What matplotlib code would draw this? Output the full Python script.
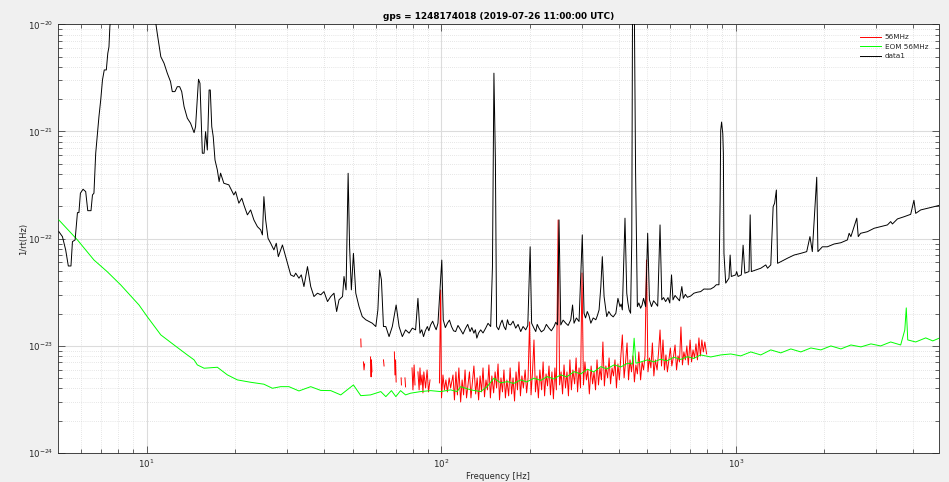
import numpy as np
import matplotlib
matplotlib.use("Agg")
import matplotlib.pyplot as plt
from matplotlib.ticker import FixedLocator, NullFormatter, FixedFormatter

plt.rcParams['font.family'] = ['DejaVu Sans']
plt.rcParams['mathtext.fontset'] = 'dejavusans'

title = "gps = 1248174018 (2019-07-26 11:00:00 UTC)"
xlabel = "Frequency [Hz]"
ylabel = "1/rt(Hz)"
series_names = ["56MHz", "EOM 56MHz", "data1"]
x_tick_exponents = [1, 2, 3]
y_tick_exponents = [-24, -23, -22, -21, -20]

# ---- data1 (black): log10(frequency [Hz]) and log10(amplitude)
data1_logf = [
    0.702, 0.714, 0.725, 0.734, 0.743, 0.748, 0.757, 0.765, 0.770, 0.775,
    0.784, 0.793, 0.800, 0.811, 0.816, 0.821, 0.827, 0.838, 0.844, 0.850,
    0.856, 0.863, 0.868, 0.872, 0.875, 0.879, 0.910, 0.960, 1.010, 1.031,
    1.036, 1.048, 1.059, 1.070, 1.081, 1.087, 1.096, 1.104, 1.112, 1.119,
    1.127, 1.138, 1.149, 1.161, 1.166, 1.176, 1.181, 1.189, 1.195, 1.200,
    1.206, 1.212, 1.216, 1.221, 1.226, 1.232, 1.240, 1.246, 1.251, 1.262,
    1.279, 1.296, 1.302, 1.313, 1.323, 1.330, 1.342, 1.353, 1.364, 1.376,
    1.387, 1.393, 1.398, 1.404, 1.412, 1.421, 1.432, 1.440, 1.447, 1.461,
    1.472, 1.489, 1.500, 1.506, 1.517, 1.525, 1.534, 1.546, 1.557, 1.568,
    1.580, 1.591, 1.602, 1.614, 1.625, 1.636, 1.645, 1.653, 1.665, 1.670,
    1.677, 1.684, 1.689, 1.695, 1.702, 1.710, 1.721, 1.732, 1.744, 1.755,
    1.766, 1.778, 1.785, 1.791, 1.797, 1.804, 1.812, 1.823, 1.834, 1.847,
    1.857, 1.868, 1.879, 1.891, 1.902, 1.913, 1.921, 1.928, 1.940, 1.953,
    1.964, 1.978, 1.989, 2.002, 2.007, 2.021, 2.035, 2.049, 2.066, 2.083,
    2.098, 2.111, 2.121, 2.134, 2.151, 2.168, 2.174, 2.179, 2.184, 2.188,
    2.202, 2.213, 2.225, 2.236, 2.253, 2.270, 2.287, 2.302, 2.307, 2.321,
    2.332, 2.349, 2.366, 2.383, 2.395, 2.400, 2.406, 2.423, 2.440, 2.446,
    2.451, 2.468, 2.479, 2.485, 2.496, 2.508, 2.525, 2.536, 2.542, 2.547,
    2.553, 2.562, 2.576, 2.593, 2.600, 2.607, 2.615, 2.624, 2.630, 2.638,
    2.643, 2.647, 2.650, 2.655, 2.660, 2.666, 2.677, 2.687, 2.694, 2.701,
    2.707, 2.714, 2.728, 2.743, 2.749, 2.762, 2.782, 2.787, 2.802, 2.817,
    2.822, 2.836, 2.858, 2.881, 2.904, 2.926, 2.943, 2.947, 2.949, 2.952,
    2.956, 2.958, 2.960, 2.966, 2.977, 2.981, 2.985, 3.000, 3.003, 3.008,
    3.019, 3.025, 3.031, 3.045, 3.049, 3.053, 3.068, 3.085, 3.102, 3.108,
    3.119, 3.127, 3.132, 3.138, 3.142, 3.153, 3.176, 3.198, 3.221, 3.241,
    3.252, 3.260, 3.275, 3.279, 3.294, 3.311, 3.334, 3.357, 3.379, 3.385,
    3.391, 3.411, 3.416, 3.424, 3.447, 3.470, 3.492, 3.515, 3.526, 3.532,
    3.549, 3.572, 3.594, 3.605, 3.611, 3.628, 3.651, 3.673, 3.696,
]
data1_loga = [
    -21.935, -21.981, -22.105, -22.255, -22.255, -22.028, -22.012, -21.757, -21.757, -21.576,
    -21.539, -21.561, -21.739, -21.739, -21.592, -21.576, -21.203, -20.861, -20.706, -20.519,
    -20.426, -20.426, -20.271, -20.210, -20.025, -19.900, -19.550, -19.500, -19.750, -19.990,
    -20.086, -20.302, -20.363, -20.456, -20.535, -20.628, -20.628, -20.582, -20.582, -20.628,
    -20.768, -20.876, -20.923, -21.011, -20.955, -20.513, -20.550, -21.203, -21.203, -21.002,
    -21.173, -20.613, -20.613, -20.955, -21.048, -21.266, -21.360, -21.468, -21.389, -21.483,
    -21.498, -21.592, -21.561, -21.669, -21.623, -21.685, -21.778, -21.732, -21.825, -21.888,
    -21.918, -21.965, -21.608, -21.825, -21.996, -22.043, -22.105, -22.043, -22.168, -22.059,
    -22.168, -22.338, -22.353, -22.322, -22.369, -22.338, -22.447, -22.261, -22.447, -22.540,
    -22.509, -22.524, -22.494, -22.587, -22.540, -22.509, -22.680, -22.571, -22.540, -22.353,
    -22.478, -21.390, -22.076, -22.478, -22.137, -22.509, -22.634, -22.727, -22.757, -22.773,
    -22.789, -22.820, -22.665, -22.292, -22.385, -22.820, -22.820, -22.914, -22.820, -22.619,
    -22.820, -22.914, -22.851, -22.882, -22.835, -22.851, -22.557, -22.882, -22.914, -22.820,
    -22.805, -22.820, -22.789, -22.200, -22.757, -22.789, -22.820, -22.867, -22.851, -22.835,
    -22.867, -22.882, -22.928, -22.851, -22.835, -22.820, -22.261, -20.456, -21.266, -22.820,
    -22.789, -22.820, -22.757, -22.805, -22.835, -22.867, -22.851, -22.076, -22.789, -22.867,
    -22.835, -22.851, -22.835, -22.820, -22.805, -21.825, -22.805, -22.789, -22.757, -22.619,
    -22.789, -22.773, -21.965, -22.696, -22.680, -22.789, -22.757, -22.665, -22.447, -22.168,
    -22.540, -22.727, -22.711, -22.696, -22.557, -22.634, -22.665, -21.809, -22.509, -22.665,
    -22.696, -22.012, -19.500, -19.600, -21.390, -22.634, -22.649, -22.557, -22.634, -21.950,
    -22.571, -22.634, -22.603, -21.872, -22.571, -22.587, -22.338, -22.571, -22.557, -22.447,
    -22.557, -22.547, -22.509, -22.494, -22.471, -22.452, -22.430, -21.642, -20.988, -20.912,
    -21.020, -21.203, -22.137, -22.415, -22.369, -22.153, -22.353, -22.338, -22.307, -22.353,
    -22.338, -22.061, -22.322, -22.307, -21.778, -22.307, -22.292, -22.276, -22.245, -22.276,
    -22.245, -21.702, -21.669, -21.546, -22.230, -22.215, -22.182, -22.153, -22.137, -22.121,
    -21.981, -22.121, -21.427, -22.121, -22.076, -22.076, -22.050, -22.038, -22.012, -21.950,
    -21.981, -21.809, -21.981, -21.950, -21.935, -21.903, -21.888, -21.872, -21.841, -21.863,
    -21.816, -21.795, -21.773, -21.642, -21.764, -21.732, -21.717, -21.702, -21.686,
]
# finer wiggles of data1's noise floor between 85 Hz and 870 Hz
data1_detail_logf = [
    1.934, 1.946, 1.958, 1.971, 1.983, 2.014, 2.028, 2.042, 2.057, 2.074,
    2.090, 2.104, 2.116, 2.127, 2.142, 2.159, 2.195, 2.207, 2.219, 2.230,
    2.244, 2.261, 2.278, 2.294, 2.314, 2.326, 2.340, 2.357, 2.374, 2.389,
    2.414, 2.431, 2.459, 2.490, 2.502, 2.516, 2.530, 2.569, 2.584, 2.611,
    2.634, 2.671, 2.682, 2.721, 2.735, 2.755, 2.770, 2.776, 2.794, 2.809,
    2.829, 2.847, 2.869, 2.892, 2.915, 2.934,
]
data1_detail_loga = [
    -22.850, -22.860, -22.860, -22.770, -22.850, -22.830, -22.760, -22.860, -22.810, -22.890,
    -22.800, -22.830, -22.850, -22.880, -22.880, -22.790, -22.850, -22.760, -22.850, -22.800,
    -22.770, -22.800, -22.820, -22.810, -22.830, -22.800, -22.870, -22.800, -22.860, -22.780,
    -22.760, -22.810, -22.740, -22.740, -22.720, -22.740, -22.720, -22.680, -22.730, -22.610,
    -22.600, -22.600, -22.620, -22.580, -22.630, -22.550, -22.550, -22.600, -22.530, -22.580,
    -22.520, -22.535, -22.500, -22.470, -22.470, -22.430,
]

# ---- EOM 56MHz (green)
eom_logf = [
    0.702, 0.765, 0.821, 0.866, 0.912, 0.974, 1.002, 1.048, 1.093, 1.138,
    1.161, 1.172, 1.195, 1.240, 1.274, 1.308, 1.353, 1.398, 1.427, 1.455,
    1.483, 1.517, 1.557, 1.591, 1.625, 1.659, 1.702, 1.727, 1.760, 1.795,
    1.812, 1.831, 1.846, 1.862, 1.879, 1.896, 1.930, 1.964, 1.998, 2.032,
    2.054, 2.066, 2.100, 2.134, 2.156, 2.179, 2.202, 2.225, 2.246, 2.270,
    2.290, 2.315, 2.338, 2.360, 2.382, 2.406, 2.426, 2.451, 2.474, 2.496,
    2.518, 2.542, 2.562, 2.587, 2.610, 2.633, 2.649, 2.655, 2.661, 2.678,
    2.700, 2.722, 2.745, 2.766, 2.790, 2.813, 2.836, 2.857, 2.881, 2.915,
    2.949, 2.983, 3.017, 3.051, 3.085, 3.119, 3.153, 3.187, 3.221, 3.255,
    3.289, 3.323, 3.357, 3.391, 3.425, 3.459, 3.492, 3.526, 3.560, 3.574,
    3.579, 3.584, 3.611, 3.645, 3.669, 3.693,
]
eom_loga = [
    -21.826, -22.012, -22.199, -22.308, -22.432, -22.619, -22.728, -22.898, -22.992, -23.085,
    -23.131, -23.178, -23.209, -23.200, -23.271, -23.318, -23.340, -23.358, -23.396, -23.381,
    -23.381, -23.421, -23.381, -23.416, -23.418, -23.458, -23.365, -23.465, -23.458, -23.427,
    -23.474, -23.418, -23.474, -23.418, -23.458, -23.442, -23.427, -23.418, -23.427, -23.411,
    -23.427, -23.381, -23.411, -23.427, -23.381, -23.302, -23.346, -23.334, -23.351, -23.318,
    -23.337, -23.302, -23.323, -23.287, -23.309, -23.271, -23.290, -23.241, -23.262, -23.218,
    -23.243, -23.194, -23.216, -23.178, -23.197, -23.162, -23.169, -22.929, -23.162, -23.150,
    -23.131, -23.150, -23.125, -23.141, -23.106, -23.127, -23.101, -23.118, -23.085, -23.104,
    -23.085, -23.076, -23.094, -23.057, -23.085, -23.038, -23.066, -23.029, -23.057, -23.020,
    -23.038, -23.001, -23.029, -22.992, -23.010, -22.982, -23.001, -22.964, -22.992, -22.852,
    -22.646, -22.945, -22.964, -22.926, -22.954, -22.926,
]

# ---- 56MHz (red); NaN marks gaps in the trace
nan = float('nan')
mhz56_logf = [
    1.727, 1.728, nan,
    1.736, 1.738, 1.740, nan,
    1.760, 1.762, 1.763, 1.765, nan,
    1.804, 1.806, nan,
    1.841, 1.843, 1.845, 1.847, nan,
    1.864, 1.865, nan,
    1.877, 1.879, nan,
    1.901, 1.904, 1.908, 1.911, nan,
    1.921, 1.925, 1.928, 1.931, 1.935, 1.938, 1.941, 1.947, 1.952, 1.957, 1.962, nan,
    1.994, 1.998, 2.001, 2.006, 2.011, 2.016, 2.021, 2.027, 2.032,
    2.040, 2.045, 2.050, 2.055, 2.060, 2.066, 2.071, 2.076, 2.081, 2.086,
    2.091, 2.096, 2.101, 2.106, 2.111, 2.117, 2.122, 2.127, 2.132, 2.137,
    2.142, 2.147, 2.152, 2.157, 2.162, 2.167, 2.172, 2.178, 2.183, 2.188,
    2.193, 2.198, 2.203, 2.208, 2.213, 2.218, 2.223, 2.229, 2.234, 2.239,
    2.244, 2.249, 2.254, 2.259, 2.264, 2.269, 2.274, 2.279, 2.285, 2.290,
    2.295, 2.300, 2.305, 2.310, 2.315, 2.320, 2.325, 2.330, 2.335, 2.341,
    2.346, 2.351, 2.356, 2.361, 2.366, 2.371, 2.376, 2.381, 2.386, 2.391,
    2.397, 2.402, 2.407, 2.412, 2.417, 2.422, 2.427, 2.432, 2.437, 2.442,
    2.447, 2.453, 2.458, 2.463, 2.468, 2.473, 2.478, 2.483, 2.488, 2.493,
    2.498, 2.503, 2.509, 2.514, 2.519, 2.524, 2.529, 2.534, 2.539, 2.544,
    2.549, 2.554, 2.559, 2.565, 2.570, 2.575, 2.580, 2.585, 2.590, 2.595,
    2.600, 2.605, 2.610, 2.615, 2.621, 2.626, 2.631, 2.636, 2.641, 2.646,
    2.651, 2.656, 2.661, 2.666, 2.671, 2.677, 2.682, 2.687, 2.692, 2.697,
    2.702, 2.707, 2.712, 2.717, 2.722, 2.727, 2.733, 2.738, 2.743, 2.748,
    2.753, 2.758, 2.763, 2.768, 2.773, 2.778, 2.783, 2.789, 2.794, 2.799,
    2.804, 2.809, 2.814, 2.819, 2.824, 2.829, 2.834, 2.839, 2.845, 2.850,
    2.855, 2.860, 2.865, 2.870, 2.875, 2.880, 2.885, 2.890, 2.895, 2.901,
]
mhz56_loga = [
    -22.936, -23.010, nan,
    -23.150, -23.225, -23.169, nan,
    -23.104, -23.290, -23.131, -23.243, nan,
    -23.131, -23.188, nan,
    -23.057, -23.272, -23.131, -23.337, nan,
    -23.299, -23.365, nan,
    -23.299, -23.383, nan,
    -23.206, -23.411, -23.178, -23.365, nan,
    -23.243, -23.411, -23.206, -23.365, -23.272, -23.439, -23.243, -23.393, -23.225, -23.430, -23.318, nan,
    -23.346, -22.479, -23.486, -23.272, -23.411, -23.318, -23.430, -23.299, -23.393,
    -23.272, -23.505, -23.243, -23.458, -23.206, -23.524, -23.318, -23.458, -23.225, -23.486,
    -23.365, -23.243, -23.486, -23.337, -23.188, -23.449, -23.299, -23.505, -23.281, -23.430,
    -23.206, -23.476, -23.318, -23.411, -23.178, -23.486, -23.281, -23.439, -23.243, -23.393,
    -23.169, -23.505, -23.299, -23.430, -23.225, -23.486, -23.318, -23.467, -23.206, -23.449,
    -23.299, -23.515, -23.243, -23.411, -23.150, -23.467, -23.281, -23.393, -23.225, -23.439,
    -23.299, -22.777, -23.458, -23.243, -22.945, -23.430, -23.281, -23.486, -23.225, -23.411,
    -23.150, -23.467, -23.262, -23.374, -23.188, -23.458, -23.243, -23.495, -23.206, -23.411,
    -21.826, -23.365, -23.243, -23.449, -23.178, -23.393, -23.243, -23.467, -23.131, -23.411,
    -23.225, -23.355, -23.113, -23.430, -23.206, -23.393, -22.320, -23.365, -23.150, -23.318,
    -23.225, -23.449, -23.188, -23.355, -23.243, -23.411, -23.131, -23.365, -23.206, -23.318,
    -22.964, -23.374, -23.188, -23.299, -23.113, -23.355, -23.206, -23.281, -23.131, -23.393,
    -23.169, -23.318, -23.094, -22.898, -23.299, -23.150, -22.973, -23.318, -23.131, -23.243,
    -23.094, -23.337, -23.178, -23.262, -23.057, -23.318, -23.150, -23.225, -23.094, -22.199,
    -23.243, -23.113, -23.206, -22.973, -23.281, -23.131, -23.225, -23.057, -22.852, -23.188,
    -22.945, -23.225, -23.085, -23.243, -23.131, -23.020, -23.188, -23.094, -22.992, -23.225,
    -23.094, -23.150, -22.824, -23.178, -23.057, -23.131, -23.001, -23.178, -22.945, -23.150,
    -23.038, -23.113, -22.982, -23.131, -22.926, -23.094, -22.945, -23.057, -22.964, -23.076,
]

xlim = (5.0, 4880.0)
ylim = (1e-24, 1e-20)

W, H = 949, 482
fig = plt.figure(figsize=(W / 100, H / 100), dpi=100, facecolor='#f0f0f0')
ax = fig.add_axes([58 / W, 1 - 453 / H, (938.5 - 58) / W, (453 - 24.3) / H])
ax.set_facecolor('white')

def tolin(a):
    return np.power(10.0, np.asarray(a, dtype=float))

# merge the black trace with its finer noise-floor readings, ordered by frequency
d1f = np.concatenate([data1_logf, data1_detail_logf])
d1a = np.concatenate([data1_loga, data1_detail_loga])
order = np.argsort(d1f, kind='stable')
d1f, d1a = d1f[order], d1a[order]

ax.plot(tolin(mhz56_logf), tolin(mhz56_loga), color='#ff0000', lw=0.7, label=series_names[0], zorder=3)
ax.plot(tolin(eom_logf), tolin(eom_loga), color='#00ff00', lw=0.7, label=series_names[1], zorder=4)
ax.plot(tolin(d1f), tolin(d1a), color='black', lw=0.7, label=series_names[2], zorder=5)

ax.set_xscale('log')
ax.set_yscale('log')
ax.set_xlim(*xlim)
ax.set_ylim(*ylim)

# major ticks only at decades inside the view, minor ticks at 2..9 x decade
xmaj = [10.0 ** e for e in x_tick_exponents]
ymaj = [10.0 ** e for e in y_tick_exponents]
xmin_t = [m * 10.0 ** e for e in range(0, 4) for m in range(2, 10)
          if xlim[0] < m * 10.0 ** e < xlim[1]]
ymin_t = [m * 10.0 ** e for e in range(-24, -20) for m in range(2, 10)]
ax.xaxis.set_major_locator(FixedLocator(xmaj))
ax.xaxis.set_major_formatter(FixedFormatter([r'$10^{%d}$' % e for e in x_tick_exponents]))
ax.yaxis.set_major_locator(FixedLocator(ymaj))
ax.yaxis.set_major_formatter(FixedFormatter([r'$10^{%d}$' % e for e in y_tick_exponents]))
ax.xaxis.set_minor_locator(FixedLocator(xmin_t))
ax.yaxis.set_minor_locator(FixedLocator(ymin_t))
ax.xaxis.set_minor_formatter(NullFormatter())
ax.yaxis.set_minor_formatter(NullFormatter())

tc = '#262626'
ax.tick_params(which='both', direction='in', top=True, right=True, colors=tc,
               labelcolor=tc, width=0.5)
ax.tick_params(which='major', length=5.2, labelsize=6.2, pad=3.4)
ax.tick_params(which='minor', length=2.9)
for sp in ax.spines.values():
    sp.set_color('#262626')
    sp.set_linewidth(0.6)

ax.grid(which='major', color='#dcdcdc', lw=0.8, ls='-', zorder=0)
ax.grid(which='minor', color='#cfcfcf', lw=0.5, ls=(0, (1, 2)), zorder=0)
ax.set_axisbelow(True)

ax.set_title(title, fontsize=6.4, fontweight='bold', color='black', pad=4)
ax.set_xlabel(xlabel, fontsize=6.0, color=tc, labelpad=1.5)
ax.set_ylabel(ylabel, fontsize=6.0, color=tc, labelpad=0)

leg = ax.legend(loc='upper right', frameon=False, fontsize=5.2, handlelength=3.0,
                handletextpad=0.5, labelspacing=0.45, borderaxespad=1.0)
for t in leg.get_texts():
    t.set_color(tc)

fig.savefig('out.png', dpi=100, facecolor=fig.get_facecolor())
